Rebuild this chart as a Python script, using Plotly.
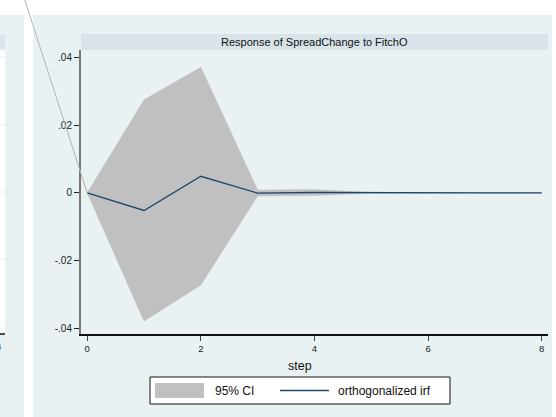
import plotly.graph_objects as go

# ---- data ----
steps = [0, 1, 2, 3, 4, 5, 6, 7, 8]
irf = [0.0, -0.0052, 0.0049, -0.0001, 0.0001, 0.0, 0.0, 0.0, 0.0]
ci_lower = [0.0, -0.0379, -0.0272, -0.0009, -0.0008, -0.0001, 0.0, 0.0, 0.0]
ci_upper = [0.0, 0.0275, 0.0371, 0.0008, 0.0010, 0.0001, 0.0, 0.0, 0.0]
ytick_vals = [-0.04, -0.02, 0.0, 0.02, 0.04]
ytick_text = ["-.04", "-.02", "0", ".02", ".04"]
xtick_vals = [0, 2, 4, 6, 8]
title_text = "Response of SpreadChange to FitchO"
xtitle_text = "step"
legend_labels = ["95% CI", "orthogonalized irf"]

# ---- layout geometry (pixels) ----
W, H = 556, 417
L, R, T, B = 81, 548, 50, 334
XR = [-0.11, 8.11]
YR = [-0.0417, 0.0422]

BG = "#e9f1f3"
STRIP = "#d8e4ea"
BAND = "#c0c0c0"
NAVY = "#1a476f"
FONT = "Liberation Sans, Arial, Helvetica, sans-serif"


def px(x):
    return (x - L) / (R - L)


def py(y):
    return (B - y) / (B - T)


fig = go.Figure()
fig.add_trace(go.Scatter(
    x=steps + steps[::-1], y=ci_upper + ci_lower[::-1],
    fill="toself", fillcolor=BAND, line=dict(color=BAND, width=0.5),
    mode="lines", hoverinfo="skip", showlegend=False))
fig.add_trace(go.Scatter(
    x=steps, y=irf, mode="lines", line=dict(color=NAVY, width=1.3),
    showlegend=False))

shapes = []
# panel backgrounds (outer region white)
shapes.append(dict(type="rect", xref="paper", yref="paper", layer="below",
                   x0=px(-2), x1=px(24), y0=py(H + 2), y1=py(15),
                   fillcolor=BG, line=dict(width=0)))
shapes.append(dict(type="rect", xref="paper", yref="paper", layer="below",
                   x0=px(33), x1=px(552), y0=py(H + 2), y1=py(15),
                   fillcolor=BG, line=dict(width=0)))
# left (cut-off) panel remnants
shapes.append(dict(type="rect", xref="paper", yref="paper", layer="below",
                   x0=px(-2), x1=px(5), y0=py(334), y1=py(51),
                   fillcolor="white", line=dict(width=0)))
shapes.append(dict(type="rect", xref="paper", yref="paper", layer="below",
                   x0=px(-2), x1=px(5), y0=py(49), y1=py(35),
                   fillcolor=STRIP, line=dict(width=0)))
shapes.append(dict(type="line", xref="paper", yref="paper", layer="below",
                   x0=px(-2), x1=px(5), y0=py(334), y1=py(334),
                   line=dict(color="#111111", width=1.5)))
for gy in [57, 125, 192, 259, 328]:
    shapes.append(dict(type="line", xref="paper", yref="paper", layer="below",
                       x0=px(-2), x1=px(5), y0=py(gy), y1=py(gy),
                       line=dict(color="#e6eff1", width=1)))
# title strip
shapes.append(dict(type="rect", xref="paper", yref="paper", layer="below",
                   x0=0, x1=1, y0=1, y1=py(34),
                   fillcolor=STRIP, line=dict(width=0)))
# thin diagonal line ending at the response origin
x_org = (steps[0] - XR[0]) / (XR[1] - XR[0])
y_org = (irf[0] - YR[0]) / (YR[1] - YR[0])
shapes.append(dict(type="line", xref="paper", yref="paper", layer="above",
                   x0=px(24.8), y0=py(0), x1=x_org, y1=y_org,
                   line=dict(color="#b4b4b4", width=1)))
# legend box
lg_l, lg_r, lg_t, lg_b = 150, 450, 377, 404
shapes.append(dict(type="rect", xref="paper", yref="paper", layer="above",
                   x0=px(lg_l), x1=px(lg_r), y0=py(lg_b), y1=py(lg_t),
                   fillcolor="white", line=dict(color="#111111", width=1)))
shapes.append(dict(type="rect", xref="paper", yref="paper", layer="above",
                   x0=px(155), x1=px(204), y0=py(398), y1=py(383),
                   fillcolor=BAND, line=dict(width=0)))
shapes.append(dict(type="line", xref="paper", yref="paper", layer="above",
                   x0=px(280), x1=px(329), y0=py(390.5), y1=py(390.5),
                   line=dict(color=NAVY, width=1.3)))

annotations = [
    dict(text=title_text, xref="paper", yref="paper", x=0.5, y=py(42),
         xanchor="center", yanchor="middle", showarrow=False,
         font=dict(family=FONT, size=11, color="#111111")),
    dict(text=xtitle_text, xref="paper", yref="paper", x=px(300), y=py(366),
         xanchor="center", yanchor="middle", showarrow=False,
         font=dict(family=FONT, size=12.5, color="#111111")),
    dict(text=legend_labels[0], xref="paper", yref="paper", x=px(213), y=py(390.5),
         xanchor="left", yanchor="middle", showarrow=False,
         font=dict(family=FONT, size=12, color="#111111")),
    dict(text=legend_labels[1], xref="paper", yref="paper", x=px(336), y=py(390.5),
         xanchor="left", yanchor="middle", showarrow=False,
         font=dict(family=FONT, size=12, color="#111111")),
    dict(text="8", xref="paper", yref="paper", x=px(-1.5), y=py(347),
         xanchor="center", yanchor="middle", showarrow=False,
         font=dict(family=FONT, size=9, color="#222222")),
]

fig.update_layout(
    width=W, height=H,
    margin=dict(l=L, r=W - R, t=T, b=H - B, pad=0),
    paper_bgcolor="white", plot_bgcolor="white",
    showlegend=False,
    shapes=shapes, annotations=annotations,
    font=dict(family=FONT, color="#111111"),
    xaxis=dict(range=XR, tickvals=xtick_vals, showgrid=False, zeroline=False,
               showline=True, linecolor="#111111", linewidth=1.5,
               ticks="outside", ticklen=5, tickwidth=1, tickcolor="#444444",
               tickfont=dict(family=FONT, size=9.5, color="#222222")),
    yaxis=dict(range=YR, tickvals=ytick_vals, ticktext=ytick_text,
               showgrid=True, gridcolor="#e8f0f2", gridwidth=1, zeroline=False,
               showline=True, linecolor="#777777", linewidth=2,
               ticks="outside", ticklen=5, tickwidth=1, tickcolor="#222222",
               tickfont=dict(family=FONT, size=10, color="#222222")),
)

fig.write_html("out.html")
